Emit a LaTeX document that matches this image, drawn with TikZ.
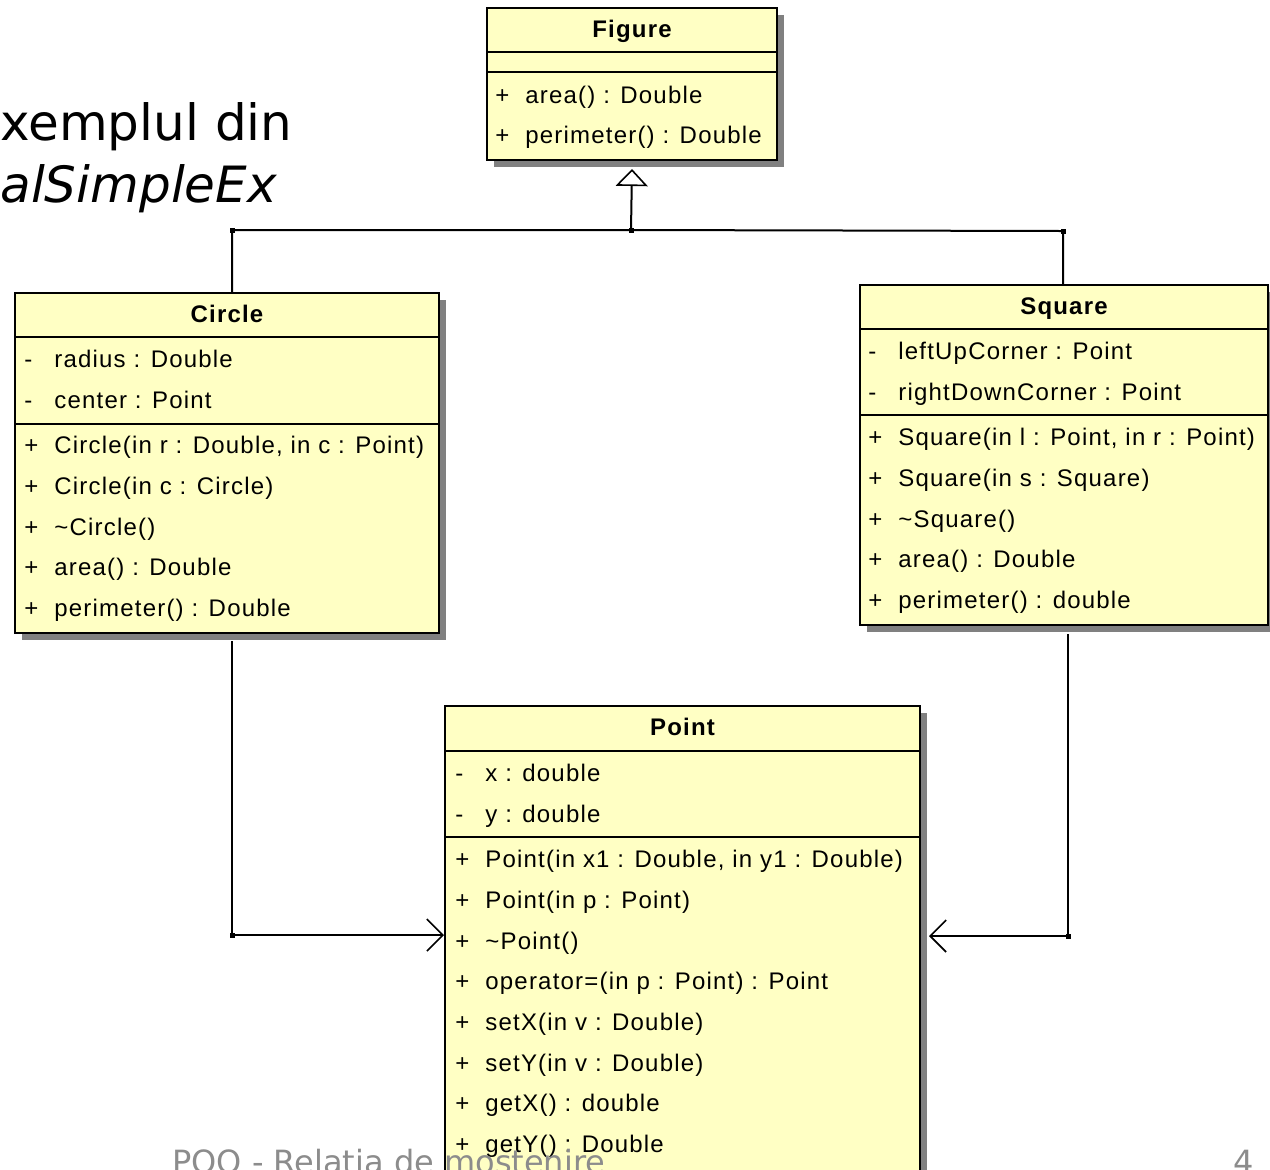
\documentclass[tikz,border=0pt]{standalone}
\usepackage{fontspec}
\setmainfont{Liberation Sans}
\newfontfamily\umlf[LetterSpace=5]{Liberation Sans}
\newfontfamily\slidef{DejaVu Sans}
\usetikzlibrary{arrows.meta,shadows,calc}
\definecolor{umlfill}{HTML}{FFFFC4}
\definecolor{shadowgray}{HTML}{808080}
\definecolor{footgray}{HTML}{8C8C8C}
\newcommand{\umlvis}[1]{\makebox[15pt][l]{#1}}
\begin{document}
\begin{tikzpicture}[x=0.5pt,y=-0.5pt,
  classbox/.style={draw=black, line width=1pt, fill=umlfill, rectangle, inner sep=0pt, anchor=north west,
    drop shadow={shadow xshift=3.5pt, shadow yshift=-3.5pt, fill=shadowgray, opacity=1}},
  sepline/.style={draw=black, line width=1pt},
  row/.style={font=\umlf\fontsize{12}{14}\selectfont, anchor=base west, inner sep=0pt},
  title/.style={font=\umlf\bfseries\fontsize{12}{14}\selectfont, anchor=base, inner sep=0pt},
  conn/.style={draw=black, line width=1pt},
  inh/.style={conn, -{Triangle[open, length=8.5pt, width=16pt, fill=white, line width=0.8pt]}},
  assoc/.style={conn, -{Straight Barb[length=8pt, width=16pt, line width=0.8pt]}},
  dot/.style={rectangle, fill=black, inner sep=0pt, minimum size=2.5pt},
  slide/.style={font=\slidef\fontsize{25}{30}\selectfont, anchor=base west, inner sep=0pt},
  foot/.style={font=\slidef\fontsize{16}{19}\selectfont, text=footgray, inner sep=0pt}
]
\useasboundingbox (0,0) rectangle (1270,1169);
\clip (0,0) rectangle (1270,1169);
\fill[white] (0,0) rectangle (1270,1169);

% slide title text
\node[slide] (t1) at (0,140) {xemplul din};
\node[slide, font=\slidef\itshape\fontsize{25}{30}\selectfont] (t2) at (0,202) {alSimpleEx};

% ---------- Figure ----------
\node[classbox, minimum width=145pt, minimum height=76pt] (fig) at (486,7) {};
\draw[sepline] ($(fig.north west)+(0,45)$) -- ($(fig.north east)+(0,45)$);
\draw[sepline] ($(fig.north west)+(0,65)$) -- ($(fig.north east)+(0,65)$);
\node[title] (figt) at ($(fig.north)+(0,30)$) {Figure};
\node[row] (f1) at ($(fig.north west)+(9,96)$) {\umlvis{+}area() : Double};
\node[row] (f2) at ($(fig.north west)+(9,136)$) {\umlvis{+}perimeter() : Double};

% ---------- Circle ----------
\node[classbox, minimum width=212pt, minimum height=170pt] (circ) at (14,292) {};
\draw[sepline] ($(circ.north west)+(0,45)$) -- ($(circ.north east)+(0,45)$);
\draw[sepline] ($(circ.north west)+(0,132)$) -- ($(circ.north east)+(0,132)$);
\node[title] (ct) at ($(circ.north)+(0,30)$) {Circle};
\node[row] (c1) at ($(circ.north west)+(10,75)$) {\umlvis{-}radius : Double};
\node[row] (c2) at ($(circ.north west)+(10,116)$) {\umlvis{-}center : Point};
\node[row] (c3) at ($(circ.north west)+(10,161)$) {\umlvis{+}Circle(in r : Double, in c : Point)};
\node[row] (c4) at ($(circ.north west)+(10,202)$) {\umlvis{+}Circle(in c : Circle)};
\node[row] (c5) at ($(circ.north west)+(10,243)$) {\umlvis{+}\textasciitilde Circle()};
\node[row] (c6) at ($(circ.north west)+(10,283)$) {\umlvis{+}area() : Double};
\node[row] (c7) at ($(circ.north west)+(10,324)$) {\umlvis{+}perimeter() : Double};

% ---------- Square ----------
\node[classbox, minimum width=204pt, minimum height=170pt] (sq) at (859,284) {};
\draw[sepline] ($(sq.north west)+(0,45)$) -- ($(sq.north east)+(0,45)$);
\draw[sepline] ($(sq.north west)+(0,131)$) -- ($(sq.north east)+(0,131)$);
\node[title] (st) at ($(sq.north)+(0,30)$) {Square};
\node[row] (s1) at ($(sq.north west)+(9,75)$) {\umlvis{-}leftUpCorner : Point};
\node[row] (s2) at ($(sq.north west)+(9,116)$) {\umlvis{-}rightDownCorner : Point};
\node[row] (s3) at ($(sq.north west)+(9,161)$) {\umlvis{+}Square(in l : Point, in r : Point)};
\node[row] (s4) at ($(sq.north west)+(9,202)$) {\umlvis{+}Square(in s : Square)};
\node[row] (s5) at ($(sq.north west)+(9,243)$) {\umlvis{+}\textasciitilde Square()};
\node[row] (s6) at ($(sq.north west)+(9,283)$) {\umlvis{+}area() : Double};
\node[row] (s7) at ($(sq.north west)+(9,324)$) {\umlvis{+}perimeter() : double};

% ---------- Point ----------
\node[classbox, minimum width=237.5pt, minimum height=245pt] (pt) at (444,705) {};
\draw[sepline] ($(pt.north west)+(0,46)$) -- ($(pt.north east)+(0,46)$);
\draw[sepline] ($(pt.north west)+(0,132)$) -- ($(pt.north east)+(0,132)$);
\node[title] (ptt) at ($(pt.north)+(0,30)$) {Point};
\node[row] (p1) at ($(pt.north west)+(11,76)$) {\umlvis{-}x : double};
\node[row] (p2) at ($(pt.north west)+(11,117)$) {\umlvis{-}y : double};
\node[row] (p3) at ($(pt.north west)+(11,162)$) {\umlvis{+}Point(in x1 : Double, in y1 : Double)};
\node[row] (p4) at ($(pt.north west)+(11,203)$) {\umlvis{+}Point(in p : Point)};
\node[row] (p5) at ($(pt.north west)+(11,244)$) {\umlvis{+}\textasciitilde Point()};
\node[row] (p6) at ($(pt.north west)+(11,284)$) {\umlvis{+}operator=(in p : Point) : Point};
\node[row] (p7) at ($(pt.north west)+(11,325)$) {\umlvis{+}setX(in v : Double)};
\node[row] (p8) at ($(pt.north west)+(11,366)$) {\umlvis{+}setY(in v : Double)};
\node[row] (p9) at ($(pt.north west)+(11,406)$) {\umlvis{+}getX() : double};
\node[row] (p10) at ($(pt.north west)+(11,447)$) {\umlvis{+}getY() : Double};

% ---------- generalization ----------
\node[dot] (dl) at (232,230) {};
\node[dot] (dm) at (631,230) {};
\node[dot] (dr) at (1063,231) {};
\draw[conn] ($(circ.north west)+(218,0)$) -- (dl.center) -- (dm.center) -- (dr.center) -- ($(sq.north west)+(204,0)$);
\draw[inh] (dm.center) -- ($(fig.south)+(0,8)$);

% ---------- associations ----------
\node[dot] (cl) at (232,935) {};
\node[dot] (cr) at (1068,936) {};
\draw[conn] ($(circ.south west)+(218,7)$) -- (cl.center);
\draw[assoc] (cl.center) -- (cl.center -| pt.west);
\draw[conn] ($(sq.south west)+(209,8)$) -- (cr.center);
\draw[assoc] (cr.center) -- ($(cr.center -| pt.east)+(8,0)$);

% ---------- footer ----------
\node[foot, anchor=base west] (foot) at (172,1173) {POO - Relatia de mostenire};
\node[foot, anchor=base east] (pg) at (1254,1173) {4};
\end{tikzpicture}
\end{document}
